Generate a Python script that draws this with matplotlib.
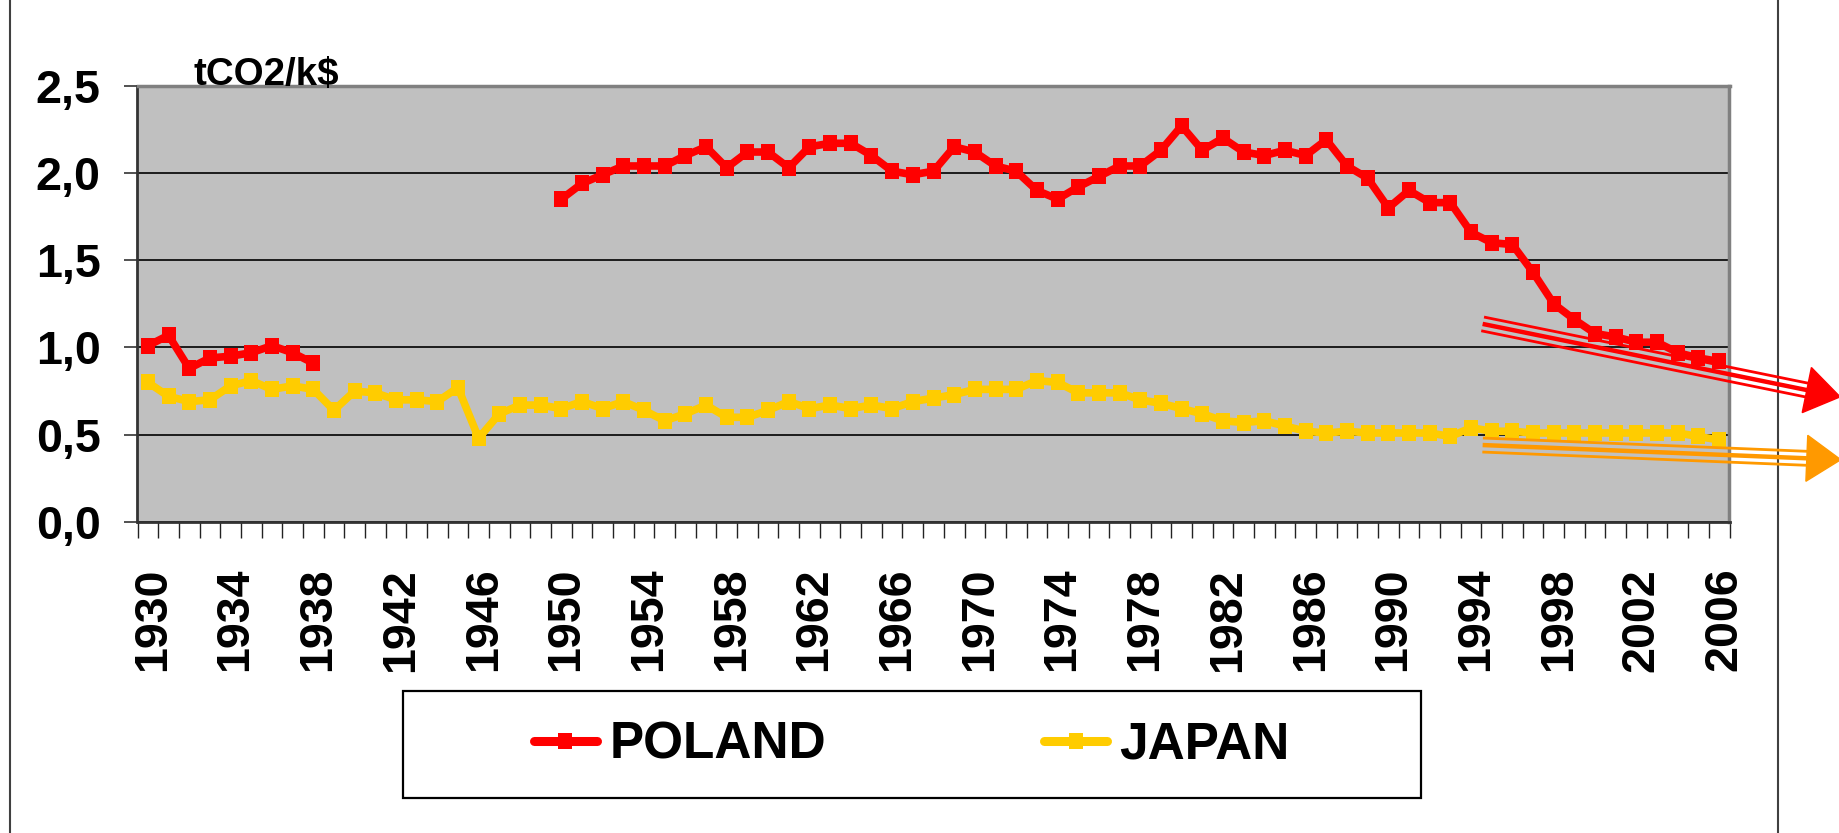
import numpy as np
import matplotlib
matplotlib.use("Agg")
import matplotlib.pyplot as plt
from matplotlib import font_manager, transforms
from matplotlib.lines import Line2D
from matplotlib.patches import Polygon, Rectangle

# --- data (tCO2 per k$ of GDP) ---
years = list(range(1930, 2007))

poland = [1.01, 1.07, 0.88, 0.94, 0.95, 0.97, 1.01, 0.97, 0.91,      # 1930-1938
          None, None, None, None, None, None, None, None, None, None, None,  # 1939-1949
          1.85, 1.94, 1.99, 2.04, 2.04, 2.04, 2.10, 2.15, 2.03, 2.12,  # 1950-1959
          2.12, 2.03, 2.15, 2.17, 2.17, 2.10, 2.01, 1.99, 2.01, 2.15,  # 1960-1969
          2.12, 2.04, 2.01, 1.90, 1.85, 1.92, 1.98, 2.04, 2.04, 2.13,  # 1970-1979
          2.27, 2.13, 2.20, 2.12, 2.10, 2.13, 2.10, 2.19, 2.04, 1.97,  # 1980-1989
          1.80, 1.90, 1.83, 1.83, 1.66, 1.60, 1.59, 1.43, 1.25, 1.16,  # 1990-1999
          1.08, 1.06, 1.03, 1.03, 0.97, 0.94, 0.92]                    # 2000-2006

japan = [0.80, 0.72, 0.69, 0.70, 0.78, 0.81, 0.76, 0.78, 0.76, 0.64,  # 1930-1939
         0.75, 0.74, 0.70, 0.70, 0.69, 0.77, 0.48, 0.62, 0.67, 0.67,  # 1940-1949
         0.65, 0.69, 0.65, 0.69, 0.64, 0.58, 0.62, 0.67, 0.60, 0.60,  # 1950-1959
         0.64, 0.69, 0.65, 0.67, 0.65, 0.67, 0.65, 0.69, 0.71, 0.73,  # 1960-1969
         0.76, 0.76, 0.76, 0.81, 0.80, 0.74, 0.74, 0.74, 0.70, 0.68,  # 1970-1979
         0.65, 0.62, 0.58, 0.57, 0.58, 0.55, 0.52, 0.51, 0.52, 0.51,  # 1980-1989
         0.51, 0.51, 0.51, 0.49, 0.54, 0.52, 0.52, 0.51, 0.51, 0.51,  # 1990-1999
         0.51, 0.51, 0.51, 0.51, 0.51, 0.49, 0.47]                    # 2000-2006

y_ticks = [0.0, 0.5, 1.0, 1.5, 2.0, 2.5]
x_label_years = years[::4]

# hand-drawn trend arrows (start, end of shaft) in data units
poland_trend = [(1994.56, 1.135), (2010.24, 0.756)]
japan_trend = [(1994.56, 0.441), (2010.24, 0.365)]

RED = "#FF0000"
YELLOW = "#FFCC00"
ORANGE = "#FF9900"

# narrow bold face if there is one, else plain Liberation Sans at smaller sizes
names = {f.name for f in font_manager.fontManager.ttflist}
NARROW = "Liberation Sans Narrow" in names
FONT = "Liberation Sans Narrow" if NARROW else "Liberation Sans"
k = 1.0 if NARROW else 0.84
plt.rcParams["font.family"] = [FONT, "DejaVu Sans"]
plt.rcParams["font.weight"] = "bold"

# slightly tall square, like the stretched Excel markers
TALL_SQUARE = [(-0.8, -1), (0.8, -1), (0.8, 1), (-0.8, 1), (-0.8, -1)]

W, H = 1840, 833
fig = plt.figure(figsize=(W / 100, H / 100), dpi=100)
fig.patch.set_facecolor("white")

# plot area placed in pixels like the original
left, right, top, bottom = 137.5, 1729.5, 85.7, 522.0
ax = fig.add_axes([left / W, 1 - bottom / H, (right - left) / W, (bottom - top) / H])
ax.set_facecolor("#C0C0C0")

pol = np.array([np.nan if v is None else v for v in poland], dtype=float)
jap = np.array(japan, dtype=float)

ax.plot(years, pol, color=RED, lw=5.5, marker=TALL_SQUARE, ms=12, mew=0,
        label="POLAND", zorder=3)
ax.plot(years, jap, color=YELLOW, lw=5.5, marker=TALL_SQUARE, ms=12, mew=0,
        label="JAPAN", zorder=3)

ax.set_xlim(years[0] - 0.5, years[-1] + 0.5)
ax.set_ylim(0, 2.5)

# y axis
ax.set_yticks(y_ticks)
ax.set_yticklabels([f"{v:.1f}".replace(".", ",") for v in y_ticks])
ax.tick_params(axis="y", direction="out", length=9.5, width=1.2, color="#333333",
               labelsize=40 * k, pad=17)
ax.grid(axis="y", color="black", lw=1.2)
ax.set_axisbelow(True)

# x axis: labels every 4 years, small ticks between categories
ax.set_xticks(x_label_years)
ax.set_xticklabels([str(y) for y in x_label_years], rotation=90)
ax.set_xticks(np.arange(years[0] - 0.5, years[-1] + 1.0, 1.0), minor=True)
ax.tick_params(axis="x", which="major", length=0, labelsize=40 * k, pad=33)
ax.tick_params(axis="x", which="minor", direction="out", length=11.5, width=1.0,
               color="#222222")
shift = transforms.ScaledTranslation(0.05, 0, fig.dpi_scale_trans)
for lab in ax.get_xticklabels():
    lab.set_transform(lab.get_transform() + shift)

for side in ("left", "bottom"):
    ax.spines[side].set_color("#333333")
    ax.spines[side].set_linewidth(2)
for side in ("top", "right"):
    ax.spines[side].set_color("#808080")
    ax.spines[side].set_linewidth(2.5)

# unit label
fig.text(193.7 / W, 1 - 85 / H, "tCO2/k$", fontsize=33 * k, fontweight="bold",
         ha="left", va="baseline")


def trend_arrow(trend, color):
    """Three parallel strokes with a triangular head, drawn in pixels."""
    p0 = ax.transData.transform(trend[0])
    p1 = ax.transData.transform(trend[1])
    d = (p1 - p0) / np.hypot(*(p1 - p0))
    n = np.array([-d[1], d[0]])
    ident = transforms.IdentityTransform()
    for off, lw in ((-7, 2.0), (0, 3.2), (7, 2.0)):
        a, b = p0 + n * off, p1 + n * off
        fig.add_artist(Line2D([a[0], b[0]], [a[1], b[1]], color=color, lw=lw,
                              transform=ident, solid_capstyle="butt", zorder=5))
    head = [p1 + n * 23, p1 - n * 23, p1 + d * 34]
    fig.add_artist(Polygon(head, closed=True, color=color, transform=ident, zorder=5))


trend_arrow(poland_trend, RED)
trend_arrow(japan_trend, ORANGE)

# legend frame and entries
fig.add_artist(Rectangle((403 / W, 1 - 798 / H), (1421 - 403) / W, (798 - 690.7) / H,
                         transform=fig.transFigure, fill=False, ec="black", lw=1.6))
leg = ax.legend(loc="center", bbox_to_anchor=(912 / W, 1 - 745 / H),
                bbox_transform=fig.transFigure, ncol=2, frameon=False,
                fontsize=44 * k, handlelength=1.22, handletextpad=0.25,
                columnspacing=4.25, borderpad=0)
for lh in leg.legend_handles:
    lh.set_linewidth(6.5)
    lh.set_solid_capstyle("round")

# outer frame lines
for xpx in (10, 1778):
    fig.add_artist(Line2D([xpx / W, xpx / W], [0, 1], transform=fig.transFigure,
                          color="#404040", lw=1.5))

fig.savefig("out.png", dpi=100)
